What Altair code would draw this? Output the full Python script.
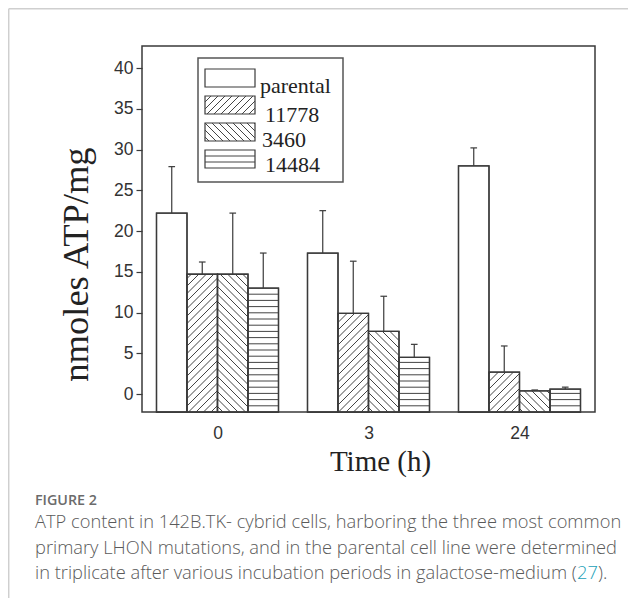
import altair as alt
import pandas as pd

# ---------------- data ----------------
times = ["0", "3", "24"]
series = ["parental", "11778", "3460", "14484"]
mean_parental = [22.2, 17.3, 28.0]
mean_11778 = [14.7, 9.9, 2.7]
mean_3460 = [14.7, 7.7, 0.4]
mean_14484 = [13.0, 4.5, 0.6]
upper_parental = [27.9, 22.5, 30.2]
upper_11778 = [16.2, 16.3, 5.9]
upper_3460 = [22.2, 12.0, 0.5]
upper_14484 = [17.3, 6.1, 0.85]
y_ticks = [0, 5, 10, 15, 20, 25, 30, 35, 40]
patterns = ["none", "fwd", "back", "horiz"]

means = [mean_parental, mean_11778, mean_3460, mean_14484]
uppers = [upper_parental, upper_11778, upper_3460, upper_14484]

# ---------------- layout ----------------
W, H = 453, 366
XMIN, XMAX = -0.5, 2.5
YMIN, YMAX = -2.2, 42.7
SX = W / (XMAX - XMIN)
SY = H / (YMAX - YMIN)
BW = 0.202          # bar width in group units
CAP = 0.022         # half cap width
INK = "#3a3a3a"


def to_data_x(px):
    return XMIN + px / SX


def to_data_y(py):
    return YMAX - py / SY


def hatch(a, b, c, d, kind, P):
    """segments (pixel space, y down) clipped to rect [a,b]x[c,d]"""
    segs = []
    if kind == "fwd":
        t = (int((a + c) / P) + 1) * P
        while t < b + d:
            lo, hi = max(a, t - d), min(b, t - c)
            if hi - lo > 0.4:
                segs.append((lo, t - lo, hi, t - hi))
            t += P
    elif kind == "back":
        t = (int((a - d) / P) - 1) * P
        while t < b - c:
            lo, hi = max(a, t + c), min(b, t + d)
            if hi - lo > 0.4:
                segs.append((lo, lo - t, hi, hi - t))
            t += P
    elif kind == "horiz":
        y = d - P
        while y > c + 0.8:
            segs.append((a, y, b, y))
            y -= P
    return segs


bar_rows, err_rows, hatch_rows = [], [], []
for k, name in enumerate(series):
    for g, t in enumerate(times):
        x0 = g - 2 * BW + k * BW
        x1 = x0 + BW
        m = means[k][g]
        u = uppers[k][g]
        bar_rows.append({"series": name, "time": t, "x0": x0, "x1": x1,
                         "mean": m, "base": YMIN})
        xc = (x0 + x1) / 2
        err_rows.append({"xc": xc, "xl": xc - CAP, "xr": xc + CAP,
                         "mean": m, "upper": u})
        a, b = (x0 - XMIN) * SX, (x1 - XMIN) * SX
        c, d = (YMAX - m) * SY, H
        P = 6.2 if patterns[k] == "horiz" else 7.5
        for (px1, py1, px2, py2) in hatch(a, b, c, d, patterns[k], P):
            hatch_rows.append({"x": to_data_x(px1), "y": to_data_y(py1),
                               "x2": to_data_x(px2), "y2": to_data_y(py2)})

bars_df = pd.DataFrame(bar_rows)
err_df = pd.DataFrame(err_rows)
hatch_df = pd.DataFrame(hatch_rows)

# legend geometry (pixels relative to plot area), converted through the scales
LB = (56, 201, 12, 136)
SW_X = (63, 113)
SW_TOP = [23, 50, 77, 104]
SW_H = 18
LAB_X = [118, 123, 120, 123]
LAB_Y = [47, 76, 101, 126]

leg_box = pd.DataFrame([{"x": to_data_x(LB[0]), "x2": to_data_x(LB[1]),
                         "y": to_data_y(LB[2]), "y2": to_data_y(LB[3])}])
sw_rows, sw_hatch, lab_rows = [], [], []
for k, name in enumerate(series):
    top = SW_TOP[k]
    sw_rows.append({"x": to_data_x(SW_X[0]), "x2": to_data_x(SW_X[1]),
                    "y": to_data_y(top), "y2": to_data_y(top + SW_H)})
    P = 6.0 if patterns[k] == "horiz" else 7.0
    for (px1, py1, px2, py2) in hatch(SW_X[0], SW_X[1], top, top + SW_H, patterns[k], P):
        sw_hatch.append({"x": to_data_x(px1), "y": to_data_y(py1),
                         "x2": to_data_x(px2), "y2": to_data_y(py2)})
    lab_rows.append({"x": to_data_x(LAB_X[k]), "y": to_data_y(LAB_Y[k]), "label": name})
sw_df = pd.DataFrame(sw_rows)
sw_hatch_df = pd.DataFrame(sw_hatch)
lab_df = pd.DataFrame(lab_rows)

xs = alt.Scale(domain=[XMIN, XMAX], nice=False, zero=False)
ys = alt.Scale(domain=[YMIN, YMAX], nice=False, zero=False)

label_expr = "[" + ",".join("'" + t + "'" for t in times) + "][datum.value]"

X_AXIS = alt.Axis(
    values=[0, 1, 2], labelExpr=label_expr, ticks=False, tickSize=0,
    labelFont="Liberation Sans", labelFontSize=17.5, labelColor="#333",
    labelPadding=12, domain=False, grid=False,
    title="Time (h)", titleFont="Liberation Serif", titleFontSize=29,
    titleFontWeight="normal", titleColor="#222", titleX=238, titleY=58,
    titleAlign="center", titleBaseline="alphabetic")
Y_AXIS = alt.Axis(
    values=y_ticks, tickSize=6, tickColor=INK, tickWidth=1.2,
    labelFont="Liberation Sans", labelFontSize=17.5, labelColor="#333",
    labelPadding=3, domain=False, grid=False,
    title="nmoles ATP/mg", titleFont="Liberation Serif", titleFontSize=36.5,
    titleFontWeight="normal", titleColor="#222", titleX=-55, titleY=218,
    titleAngle=270, titleAlign="center", titleBaseline="alphabetic")


def X(f):
    return alt.X(f, scale=xs, axis=X_AXIS)


def Y(f):
    return alt.Y(f, scale=ys, axis=Y_AXIS)


bars = alt.Chart(bars_df).mark_bar(fill="white", stroke=INK, strokeWidth=1.3).encode(
    x=X("x0:Q"), x2="x1:Q", y=Y("mean:Q"), y2="base:Q")

hatches = alt.Chart(hatch_df).mark_rule(stroke="#444", strokeWidth=1).encode(
    x=X("x:Q"), x2="x2:Q", y=Y("y:Q"), y2="y2:Q")

outline = alt.Chart(bars_df).mark_bar(fillOpacity=0, stroke=INK, strokeWidth=1.3).encode(
    x=X("x0:Q"), x2="x1:Q", y=Y("mean:Q"), y2="base:Q")

stems = alt.Chart(err_df).mark_rule(stroke=INK, strokeWidth=1.2).encode(
    x=X("xc:Q"), y=Y("mean:Q"), y2="upper:Q")

caps = alt.Chart(err_df).mark_rule(stroke=INK, strokeWidth=1.2).encode(
    x=X("xl:Q"), x2="xr:Q", y=Y("upper:Q"))

legbox = alt.Chart(leg_box).mark_rect(fill="white", stroke="#555", strokeWidth=1.5).encode(
    x=X("x:Q"), x2="x2:Q", y=Y("y:Q"), y2="y2:Q")

swatch = alt.Chart(sw_df).mark_rect(fill="white", stroke=INK, strokeWidth=1.2).encode(
    x=X("x:Q"), x2="x2:Q", y=Y("y:Q"), y2="y2:Q")

swatch_h = alt.Chart(sw_hatch_df).mark_rule(stroke="#444", strokeWidth=1).encode(
    x=X("x:Q"), x2="x2:Q", y=Y("y:Q"), y2="y2:Q")

labels = alt.Chart(lab_df).mark_text(
    align="left", baseline="alphabetic", font="Liberation Serif",
    fontSize=22, color="#222").encode(
    x=X("x:Q"), y=Y("y:Q"), text="label:N")

one = alt.Data(values=[{"k": 1}])
frame_v = alt.Chart(one).mark_rule(stroke="#cfcfcf", strokeWidth=1.5).encode(
    x=alt.value(-133.3), y=alt.value(-37.3), y2=alt.value(600))
frame_h = alt.Chart(one).mark_rule(stroke="#cfcfcf", strokeWidth=1.5).encode(
    x=alt.value(-133.3), x2=alt.value(520), y=alt.value(-37.3))

CAP_X = 35 - 142
CAP_FS = 18.3
fig_lbl = alt.Chart(one).mark_text(
    text="FIGURE 2", align="left", baseline="alphabetic", font="Open Sans",
    fontSize=14.3, fontWeight=600, color="#6b6b6b").encode(
    x=alt.value(CAP_X), y=alt.value(505 - 46))
cap_lines = [
    "ATP content in 142B.TK- cybrid cells, harboring the three most common",
    "primary LHON mutations, and in the parental cell line were determined",
    "in triplicate after various incubation periods in galactose-medium (",
]
cap_y = [528 - 46, 554 - 46, 579 - 46]
cap_layers = []
for txt, yy in zip(cap_lines, cap_y):
    cap_layers.append(alt.Chart(one).mark_text(
        text=txt, align="left", baseline="alphabetic", font="Open Sans",
        fontSize=CAP_FS, fontWeight=300, color="#5a5a5a").encode(
        x=alt.value(CAP_X), y=alt.value(yy)))
ref_num = alt.Chart(one).mark_text(
    text="27", align="left", baseline="alphabetic", font="Open Sans",
    fontSize=CAP_FS, fontWeight=300, color="#1a9fb8").encode(
    x=alt.value(577 - 142), y=alt.value(cap_y[2]))
ref_end = alt.Chart(one).mark_text(
    text=").", align="left", baseline="alphabetic", font="Open Sans",
    fontSize=CAP_FS, fontWeight=300, color="#5a5a5a").encode(
    x=alt.value(598 - 142), y=alt.value(cap_y[2]))

chart = alt.layer(
    bars, hatches, outline, stems, caps, legbox, swatch, swatch_h, labels,
    frame_v, frame_h, fig_lbl, *cap_layers, ref_num, ref_end
).properties(
    width=W, height=H,
    autosize=alt.AutoSizeParams(type="none"),
    padding={"left": 134, "top": 38, "right": 33, "bottom": 186},
    background="white",
).configure_view(stroke=INK, strokeWidth=1.5)

chart.save("out.html", embed_options={"renderer": "svg", "actions": False})
